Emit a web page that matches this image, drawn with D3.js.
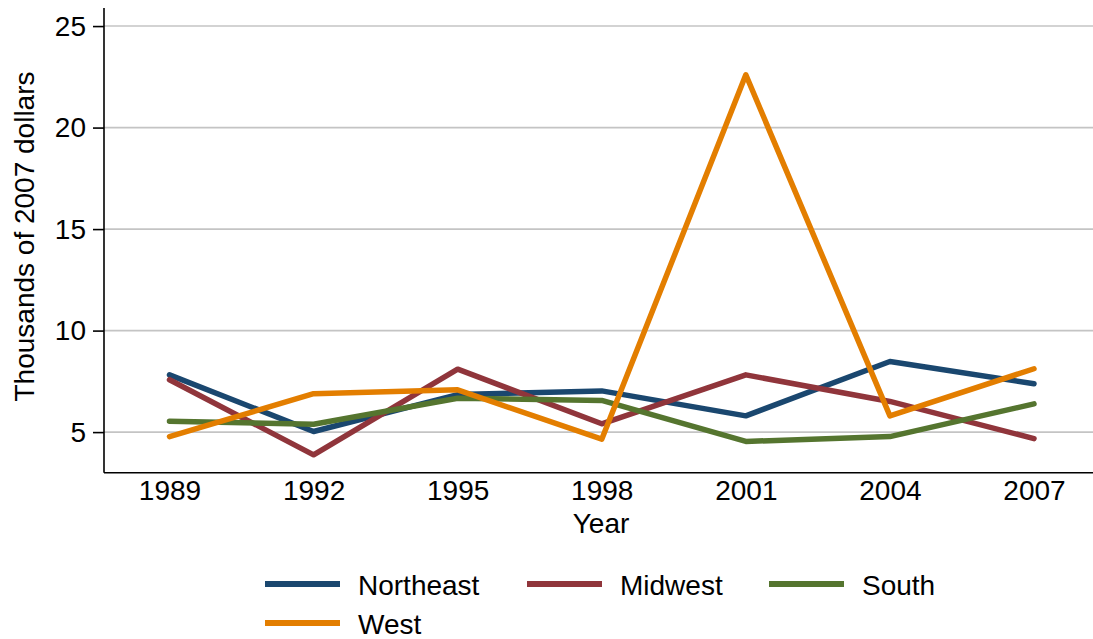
<!DOCTYPE html>
<html><head><meta charset="utf-8">
<script src="https://cdn.jsdelivr.net/npm/d3@7"></script>
<style>body{margin:0;background:#fff}svg{display:block}text{font-family:"Liberation Sans",Arial,sans-serif;fill:#000}</style>
</head><body>
<script>
const years = [1989, 1992, 1995, 1998, 2001, 2004, 2007];
const northeast = [7.82, 5.03, 6.85, 7.03, 5.80, 8.48, 7.38];
const midwest   = [7.58, 3.88, 8.10, 5.41, 7.82, 6.51, 4.68];
const south     = [5.54, 5.39, 6.67, 6.56, 4.54, 4.78, 6.39];
const west      = [4.78, 6.89, 7.08, 4.65, 22.6, 5.80, 8.12];
const seriesNames = ["Northeast", "Midwest", "South", "West"];
const seriesColors = ["#1a476f", "#90353b", "#55752f", "#e37e00"];
const yTicks = [5, 10, 15, 20, 25];

const W = 1093, H = 639;
const svg = d3.select("body").append("svg").attr("width", W).attr("height", H);
const pLeft = 104, pRight = 1093, pTop = 8, pBottom = 472.7;
const x = d3.scaleLinear().domain([1989, 2007]).range([169.5, 1034]);
const y = d3.scaleLinear().domain([3, 25.89]).range([pBottom, pTop]);
const fs = 28;

// gridlines
svg.append("g").selectAll("line").data(yTicks).join("line")
  .attr("x1", pLeft).attr("x2", pRight)
  .attr("y1", d => y(d)).attr("y2", d => y(d))
  .attr("stroke", "#c4c4c4").attr("stroke-width", 1.6);

// y axis
const ya = svg.append("g").attr("transform", `translate(${pLeft},0)`)
  .call(d3.axisLeft(y).tickValues(yTicks).tickSize(11).tickPadding(7).tickFormat(d3.format("d")));
ya.select(".domain").attr("d", `M0,${pTop}V${pBottom}`).attr("stroke", "#000").attr("stroke-width", 1.6);
ya.selectAll(".tick line").attr("stroke", "#000").attr("stroke-width", 1.6);
ya.selectAll(".tick text").attr("font-size", fs).attr("font-family", "Liberation Sans, Arial, sans-serif").attr("fill", "#000");

// x axis
const xa = svg.append("g").attr("transform", `translate(0,${pBottom})`)
  .call(d3.axisBottom(x).tickValues(years).tickSize(0).tickPadding(7.5).tickFormat(d3.format("d")));
xa.select(".domain").attr("d", `M${pLeft},0H${pRight}`).attr("stroke", "#000").attr("stroke-width", 1.6);
xa.selectAll(".tick text").attr("font-size", fs).attr("font-family", "Liberation Sans, Arial, sans-serif").attr("fill", "#000");

// axis titles
svg.append("text").attr("x", 601).attr("y", 533).attr("text-anchor", "middle").attr("font-size", fs).text("Year");
svg.append("text").attr("transform", "translate(34,236.5) rotate(-90)").attr("text-anchor", "middle").attr("font-size", fs).text("Thousands of 2007 dollars");

// lines
const data = [northeast, midwest, south, west];
const line = d3.line().x((d, i) => x(years[i])).y(d => y(d));
svg.append("g").selectAll("path").data(data).join("path")
  .attr("d", d => line(d)).attr("fill", "none")
  .attr("stroke", (d, i) => seriesColors[i]).attr("stroke-width", 5.5)
  .attr("stroke-linecap", "round").attr("stroke-linejoin", "round");

// legend
const legPos = [[265, 584], [527, 584], [769, 584], [265, 623]];
const lg = svg.append("g").selectAll("g").data(seriesNames).join("g")
  .attr("transform", (d, i) => `translate(${legPos[i][0]},${legPos[i][1]})`);
lg.append("line").attr("x1", 0).attr("x2", 75).attr("y1", 0).attr("y2", 0)
  .attr("stroke", (d, i) => seriesColors[i]).attr("stroke-width", 6);
lg.append("text").attr("x", 93).attr("y", 11).attr("font-size", fs).text(d => d);
</script>
</body></html>
